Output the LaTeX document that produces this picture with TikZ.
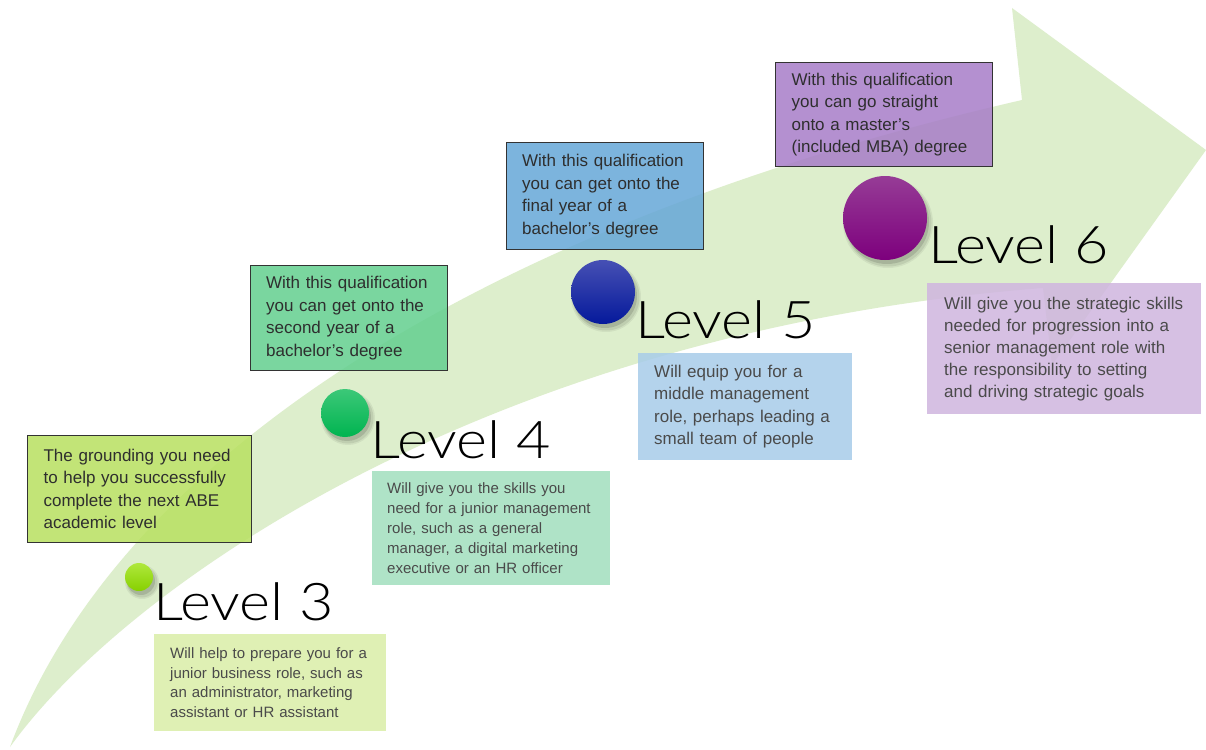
\documentclass[tikz,border=0pt]{standalone}
\usepackage{fontspec}
\setmainfont{Liberation Sans}
\IfFontExistsTF{Lato Light}
  {\newfontfamily\levelfont[FakeStretch=1.14]{Lato Light}\def\levelsize{\fontsize{52}{52}}}
  {\newfontfamily\levelfont[FakeStretch=1.06]{Liberation Sans}\def\levelsize{\fontsize{50}{50}}}
\definecolor{arrowgreen}{HTML}{DDEECC}
\definecolor{boxline}{HTML}{333333}
\definecolor{uptext}{HTML}{2E2E2E}
\definecolor{lowtext}{HTML}{4A4A4A}
\definecolor{uthree}{HTML}{B8E060}
\definecolor{ufour}{HTML}{63CF8F}
\definecolor{ufive}{HTML}{66A7D8}
\definecolor{usix}{HTML}{A77DC8}
\definecolor{lthree}{HTML}{DAEEA7}
\definecolor{lfour}{HTML}{A2DFBE}
\definecolor{lfive}{HTML}{A7CCE9}
\definecolor{lsix}{HTML}{CFB5DF}
\begin{document}
\begin{tikzpicture}[x=1pt,y=-1pt,
  ubox/.style={draw=boxline, line width=1.2pt, fill opacity=0.85, text opacity=1,
    anchor=north west, inner ysep=0pt, align=left, text=uptext,
    font=\fontsize{17}{22.5}\selectfont},
  lbox/.style={draw=none, fill opacity=0.85, text opacity=1,
    anchor=north west, inner ysep=0pt, align=left, text=lowtext},
  lvl/.style={anchor=base west, inner sep=0pt, text=black,
    font=\levelfont\levelsize\selectfont},
  ball/.style={circle, inner sep=0pt, draw=none},
  shadowc/.style={fill=black, draw=none}
]
\useasboundingbox (0,0) rectangle (1206,749);
\fill[white] (0,0) rectangle (1206,749);

% big curved arrow
\fill[arrowgreen] (10,747) .. controls (120,450) and (500,220) .. (1022,100)
  -- (1012,8) -- (1206,150) -- (1052,365) -- (1043,288)
  .. controls (500,330) and (130,580) .. (10,747) -- cycle;

% upper boxes
\node[ubox, fill=uthree, minimum width=224pt, minimum height=107pt, text width=192pt, inner xsep=16pt] (u3) at (27,435)
  {The grounding you need\\to help you successfully\\complete the next ABE\\academic level};
\node[ubox, fill=ufour, minimum width=197pt, minimum height=105pt, text width=166pt, inner xsep=15.5pt] (u4) at (250,265)
  {With this qualification\\you can get onto the\\second year of a\\bachelor's degree};
\node[ubox, fill=ufive, minimum width=197pt, minimum height=107pt, text width=166pt, inner xsep=15.5pt] (u5) at (506,142)
  {With this qualification\\you can get onto the\\final year of a\\bachelor's degree};
\node[ubox, fill=usix, minimum width=217pt, minimum height=104pt, text width=185pt, inner xsep=16pt] (u6) at (775,62)
  {With this qualification\\you can go straight\\onto a master's\\(included MBA) degree};

% lower boxes
\node[lbox, fill=lthree, minimum width=232pt, minimum height=97pt, text width=200pt, inner xsep=16pt,
  font=\fontsize{15}{19.5}\selectfont] (d3) at (154,634)
  {Will help to prepare you for a\\junior business role, such as\\an administrator, marketing\\assistant or HR assistant};
\node[lbox, fill=lfour, minimum width=238pt, minimum height=114pt, text width=208pt, inner xsep=15pt,
  font=\fontsize{15}{20}\selectfont] (d4) at (372,471)
  {Will give you the skills you\\need for a junior management\\role, such as a general\\manager, a digital marketing\\executive or an HR officer};
\node[lbox, fill=lfive, minimum width=214pt, minimum height=107pt, text width=182pt, inner xsep=16pt,
  font=\fontsize{17}{22.3}\selectfont] (d5) at (638,353)
  {Will equip you for a\\middle management\\role, perhaps leading a\\small team of people};
\node[lbox, fill=lsix, minimum width=274pt, minimum height=131pt, text width=240pt, inner xsep=17pt,
  font=\fontsize{17}{22}\selectfont] (d6) at (927,283)
  {Will give you the strategic skills\\needed for progression into a\\senior management role with\\the responsibility to setting\\and driving strategic goals};

% ball shadows
\foreach \cx/\cy/\r in {139/577/14, 345/413/24, 603/292/32, 885/218/42}{
  \fill[shadowc, opacity=0.06] (\cx+3,\cy+5) circle (\r+3);
  \fill[shadowc, opacity=0.08] (\cx+3,\cy+5) circle (\r+1.5);
  \fill[shadowc, opacity=0.12] (\cx+2,\cy+4) circle (\r);
}

% balls
\node[ball, minimum size=28pt, top color={rgb,255:red,175;green,232;blue,60}, bottom color={rgb,255:red,135;green,208;blue,0}] (b3) at (139,577) {};
\node[ball, minimum size=48pt, top color={rgb,255:red,60;green,200;blue,120}, bottom color={rgb,255:red,0;green,180;blue,80}] (b4) at (345,413) {};
\node[ball, minimum size=64pt, top color={rgb,255:red,70;green,80;blue,180}, bottom color={rgb,255:red,5;green,25;blue,155}] (b5) at (603,292) {};
\node[ball, minimum size=84pt, top color={rgb,255:red,150;green,60;blue,150}, bottom color={rgb,255:red,125;green,0;blue,125}] (b6) at (885,218) {};

% level labels
\node[lvl] (l3) at (153,620) {Level 3};
\node[lvl] (l4) at (370,458) {Level 4};
\node[lvl] (l5) at (635,338) {Level 5};
\node[lvl] (l6) at (928,263) {Level 6};
\end{tikzpicture}
\end{document}
